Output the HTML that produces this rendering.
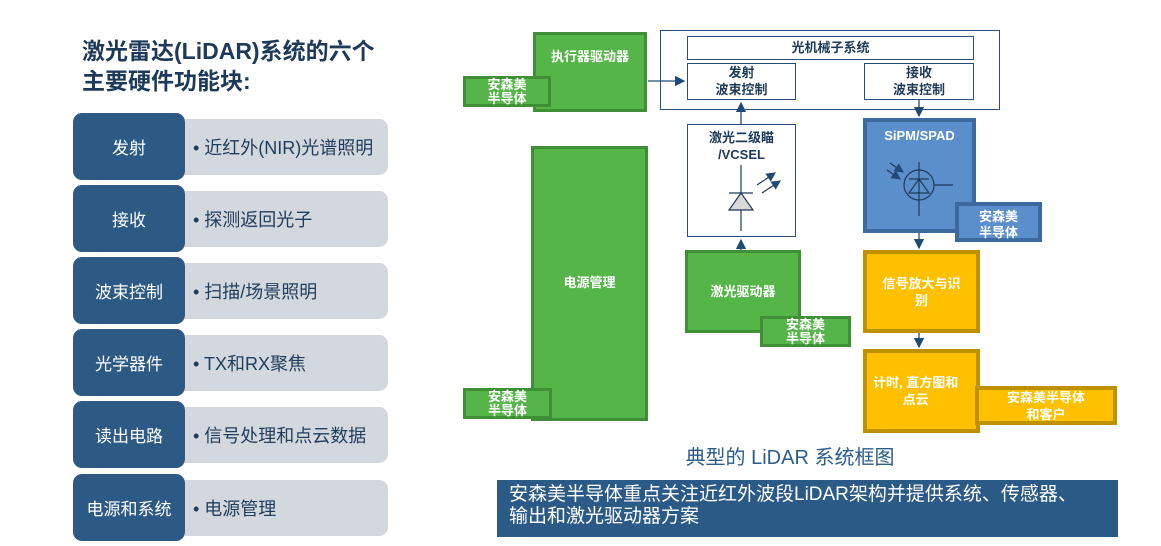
<!DOCTYPE html><html><head><meta charset="utf-8"><style>
body{margin:0;width:1161px;height:546px;background:#fff;position:relative;overflow:hidden;font-family:"Liberation Sans","Noto Sans CJK SC",sans-serif}
.a{position:absolute;box-sizing:border-box}
.t{color:#1e3a5a;font-weight:bold;font-size:23px;line-height:30px;left:82px;top:36px}
.d{background:#2d5a85;border-radius:9px;color:#fff;font-size:17px;display:flex;align-items:center;justify-content:center;left:73px;width:112px;height:67px}
.l{background:#d3d7de;border-radius:0 9px 9px 0;color:#1f3d5c;font-size:18px;display:flex;align-items:center;left:185px;width:203px;height:56px;padding-left:8px}
.g{background:#56b549;border:3px solid #3f8f36;color:#fff;font-weight:bold;font-size:13px;text-align:center;display:flex;align-items:center;justify-content:center;line-height:16px}
.s{font-size:13px;line-height:14px}
.w{background:#fff;border:1px solid #2b4e78;color:#1e3a5a;font-weight:bold;font-size:13px;text-align:center;line-height:17px}
.y{background:#ffc000;border:4px solid #bf9000;color:#fff;font-weight:bold;font-size:13px;text-align:center;display:flex;align-items:center;justify-content:center;line-height:17px}
.bl{background:#5b8fcc;border:4px solid #3d6a9e;color:#fff;font-weight:bold;font-size:13px;text-align:center;line-height:16px}
</style></head><body>
<div class="a t">激光雷达(LiDAR)系统的六个<br>主要硬件功能块:</div>
<div class="a d" style="top:113px">发射</div><div class="a l" style="top:119px">• 近红外(NIR)光谱照明</div>
<div class="a d" style="top:185px">接收</div><div class="a l" style="top:191px">• 探测返回光子</div>
<div class="a d" style="top:257px">波束控制</div><div class="a l" style="top:263px">• 扫描/场景照明</div>
<div class="a d" style="top:329px">光学器件</div><div class="a l" style="top:335px">• TX和RX聚焦</div>
<div class="a d" style="top:401px">读出电路</div><div class="a l" style="top:407px">• 信号处理和点云数据</div>
<div class="a d" style="top:474px">电源和系统</div><div class="a l" style="top:480px">• 电源管理</div>

<div class="a w" style="left:660px;top:30px;width:340px;height:80px"></div>
<div class="a w" style="left:687px;top:36px;width:287px;height:24px;line-height:22px">光机械子系统</div>
<div class="a w" style="left:687px;top:63px;width:109px;height:37px">发射<br>波束控制</div>
<div class="a w" style="left:864px;top:63px;width:110px;height:37px">接收<br>波束控制</div>

<div class="a g" style="left:533px;top:32px;width:114px;height:80px;align-items:flex-start;padding-top:14px">执行器驱动器</div>
<div class="a g s" style="left:463px;top:76px;width:88px;height:31px">安森美<br>半导体</div>
<div class="a g" style="left:531px;top:146px;width:117px;height:275px;align-items:flex-start;padding-top:126px">电源管理</div>
<div class="a g s" style="left:463px;top:388px;width:89px;height:31px">安森美<br>半导体</div>

<div class="a w" style="left:687px;top:124px;width:109px;height:113px;padding-top:4px">激光二级瞄<br>/VCSEL</div>
<div class="a g" style="left:685px;top:250px;width:116px;height:83px">激光驱动器</div>
<div class="a g s" style="left:760px;top:316px;width:91px;height:31px">安森美<br>半导体</div>

<div class="a bl" style="left:863px;top:118px;width:113px;height:115px;padding-top:6px">SiPM/SPAD</div>
<div class="a bl" style="left:955px;top:202px;width:87px;height:40px;padding-top:3px">安森美<br>半导体</div>
<div class="a y" style="left:863px;top:250px;width:117px;height:83px">信号放大与识<br>别</div>
<div class="a y" style="left:863px;top:349px;width:117px;height:84px;justify-content:flex-start;padding-left:6px">计时, 直方图和<br>点云</div>
<div class="a y" style="left:975px;top:386px;width:142px;height:39px">安森美半导体<br>和客户</div>

<svg class="a" style="left:0;top:0" width="1161" height="546">
<defs><marker id="m" markerWidth="8" markerHeight="8" refX="7" refY="4" orient="auto"><path d="M0,0 L8,4 L0,8Z" fill="#1e4a7a"/></marker></defs>
<g stroke="#1e4a7a" stroke-width="1.3" fill="none">
<line x1="648" y1="81" x2="684" y2="81" marker-end="url(#m)"/>
<line x1="741" y1="124" x2="741" y2="103" marker-end="url(#m)"/>
<line x1="741" y1="250" x2="741" y2="240" marker-end="url(#m)"/>
<line x1="919" y1="100" x2="919" y2="116" marker-end="url(#m)"/>
<line x1="919" y1="233" x2="919" y2="248" marker-end="url(#m)"/>
<line x1="919" y1="333" x2="919" y2="347" marker-end="url(#m)"/>
</g>
<g stroke="#1e3a5a" stroke-width="1.2" fill="none">
<line x1="741" y1="165" x2="741" y2="231"/><line x1="729" y1="193" x2="753" y2="193"/>
<path d="M741,193 L729,210 L753,210Z" fill="#d9d9d9"/>
<line x1="757" y1="185" x2="775" y2="173" marker-end="url(#m)"/><line x1="762" y1="193" x2="780" y2="181" marker-end="url(#m)"/>
<circle cx="919" cy="185" r="15"/><line x1="919" y1="162" x2="919" y2="216"/><line x1="934" y1="185" x2="953" y2="185"/>
<line x1="909" y1="179" x2="929" y2="179"/><path d="M919,179 L909,193 L929,193Z"/>
<line x1="890" y1="163" x2="903" y2="172" marker-end="url(#m)"/><line x1="887" y1="170" x2="900" y2="179" marker-end="url(#m)"/>
</g></svg>

<div class="a" style="left:600px;top:441px;width:380px;text-align:center;color:#2c5c8a;font-size:20px">典型的 LiDAR 系统框图</div>
<div class="a" style="left:497px;top:480px;width:621px;height:57px;background:#2b5a87;color:#fff;font-size:19px;line-height:22px;padding:4px 0 0 12px">安森美半导体重点关注近红外波段LiDAR架构并提供系统、传感器、<br>输出和激光驱动器方案</div>
</body></html>
